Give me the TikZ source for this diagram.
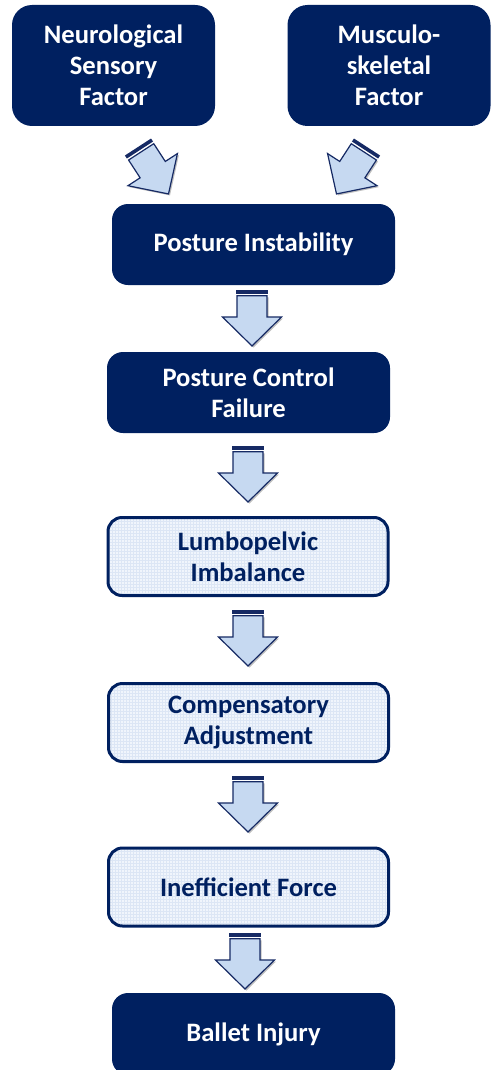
\documentclass[tikz,border=0pt]{standalone}
\usepackage{fontspec}
\setmainfont{Carlito}
\usetikzlibrary{shadows}
\definecolor{navy}{RGB}{0,32,96}
\definecolor{arrowblue}{RGB}{198,217,241}
\definecolor{arrowline}{RGB}{22,42,100}
\definecolor{lightfill}{RGB}{240,245,252}
\definecolor{gridc}{RGB}{220,230,245}
\tikzset{
  box/.style={rounded corners=16pt, minimum width=283pt, minimum height=81pt,
    align=center, font=\fontsize{26.6}{31}\selectfont\bfseries, inner sep=0pt},
  darkbox/.style={box, fill=navy, text=white},
  topbox/.style={darkbox, minimum width=203pt, minimum height=121pt, rounded corners=20pt},
  lightbox/.style={box, draw=navy, line width=3pt, fill=lightfill, text=navy,
    minimum width=280pt, minimum height=78pt, rounded corners=14pt,
    path picture={\draw[gridc, line width=0.45pt, step=3pt]
      (path picture bounding box.south west) grid (path picture bounding box.north east);}},
  arrowbody/.style={fill=arrowblue, draw=arrowline, line width=1.2pt, line join=miter,
    drop shadow={shadow xshift=1.5pt, shadow yshift=-1.5pt, fill=black, opacity=0.25}},
  arrowbar/.style={fill=arrowline}
}
\newcommand{\blockarrow}[2]{%
  \begin{scope}[shift={(#1)}, rotate=#2]
    \fill[arrowbar] (-15.6,0) rectangle (15.6,-3.6);
    \draw[arrowbody] (-15,-5.8) -- (15,-5.8) -- (15,-27) -- (29.5,-27) -- (0,-56)
      -- (-29.5,-27) -- (-15,-27) -- cycle;
  \end{scope}}
\begin{document}
\begin{tikzpicture}[x=1pt, y=1pt]
\useasboundingbox (0,0) rectangle (491,-1070);
\node[topbox] (nsf) at (113.5,-65.5) {Neurological\\Sensory\\Factor};
\node[topbox] (msf) at (389,-65.5) {Musculo-\\skeletal\\Factor};
\node[darkbox] (pi) at (253.5,-244.5) {Posture Instability};
\node[darkbox] (pcf) at (248.5,-392.5) {Posture Control\\Failure};
\node[lightbox] (lum) at (248,-556.5) {Lumbopelvic\\Imbalance};
\node[lightbox] (comp) at (248.5,-722.5) {Compensatory\\Adjustment};
\node[lightbox] (ineff) at (248.5,-887) {Inefficient Force};
\node[darkbox, minimum height=82pt] (bi) at (253.5,-1034) {Ballet Injury};
\coordinate (a0l) at (138,-147);
\coordinate (a0r) at (367,-147);
\coordinate (a1) at (252,-290);
\coordinate (a2) at (248,-446);
\coordinate (a3) at (248,-610);
\coordinate (a4) at (248,-776);
\coordinate (a5) at (245,-933);
\blockarrow{a0l}{33}
\blockarrow{a0r}{-33}
\blockarrow{a1}{0}
\blockarrow{a2}{0}
\blockarrow{a3}{0}
\blockarrow{a4}{0}
\blockarrow{a5}{0}
\end{tikzpicture}
\end{document}
